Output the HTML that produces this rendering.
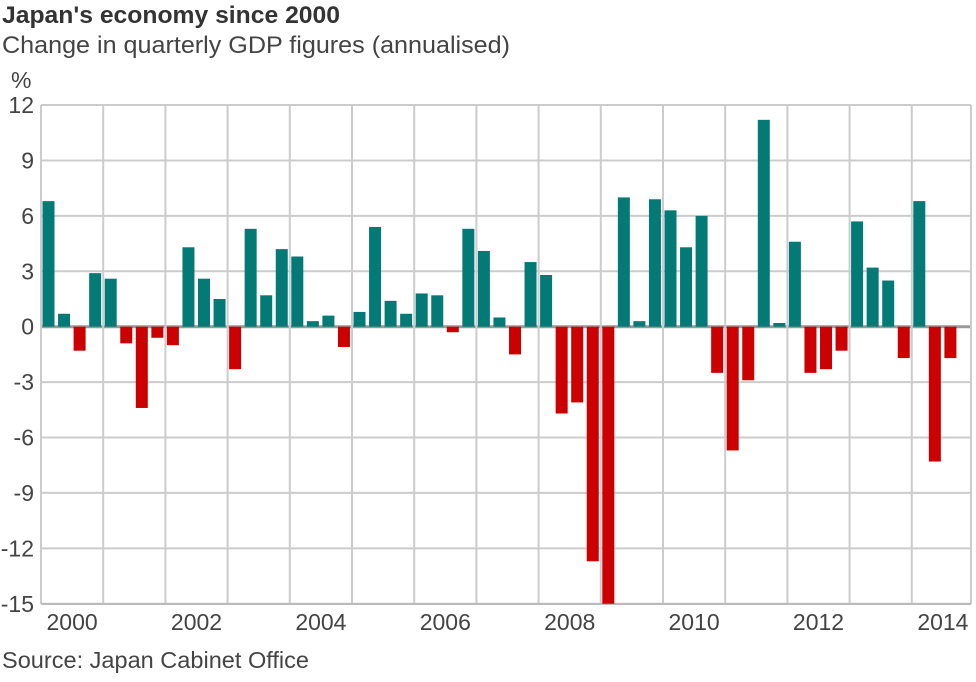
<!DOCTYPE html>
<html><head><meta charset="utf-8"><style>
body{margin:0;background:#fff;width:976px;height:677px;overflow:hidden;font-family:"Liberation Sans",Arial,sans-serif}
</style></head><body>
<svg width="976" height="677" xmlns="http://www.w3.org/2000/svg">
<text x="2" y="23" font-size="24" font-weight="bold" fill="#333" textLength="338" lengthAdjust="spacingAndGlyphs">Japan's economy since 2000</text>
<text x="2" y="53" font-size="24" fill="#444" textLength="508" lengthAdjust="spacingAndGlyphs">Change in quarterly GDP figures (annualised)</text>
<text x="11" y="88" font-size="23" fill="#444">%</text>
<g id="grid"></g><g id="bars"></g><g id="axes"></g>
<text x="2" y="668" font-size="23" fill="#444" textLength="307" lengthAdjust="spacingAndGlyphs">Source: Japan Cabinet Office</text>
</svg>
<script>
const years=[2000,2001,2002,2003,2004,2005,2006,2007,2008,2009,2010,2011,2012,2013,2014];
const yTicks=[12,9,6,3,0,-3,-6,-9,-12,-15];
const gdpValues=[6.8,0.7,-1.3,2.9, 2.6,-0.9,-4.4,-0.6, -1.0,4.3,2.6,1.5, -2.3,5.3,1.7,4.2,
3.8,0.3,0.6,-1.1, 0.8,5.4,1.4,0.7, 1.8,1.7,-0.3,5.3, 4.1,0.5,-1.5,3.5,
2.8,-4.7,-4.1,-12.7, -15,7.0,0.3,6.9, 6.3,4.3,6.0,-2.5, -6.7,-2.9,11.2,0.2,
4.6,-2.5,-2.3,-1.3, 5.7,3.2,2.5,-1.7, 6.8,-7.3,-1.7];
const NS='http://www.w3.org/2000/svg';
const L=41,R=971,T=105,B=604,yw=62.2;
const y=v=>326.7-v*18.47;
const xq=i=>L+i*yw/4;
function mk(tag,attrs,parent){const e=document.createElementNS(NS,tag);for(const k in attrs)e.setAttribute(k,attrs[k]);document.getElementById(parent).appendChild(e);return e;}
yTicks.forEach(t=>{
 const g=mk('line',{x1:L,x2:R,y1:y(t),y2:y(t),stroke:t===0?'#999':'#ccc','stroke-width':t===0?3:2},'grid');
 
 
 const tx=mk('text',{x:34,y:y(t)+8,'text-anchor':'end','font-size':23,fill:'#444'},'axes');
 tx.textContent=t;
 
 
});
years.forEach((yr,i)=>{
 const xs=L+i*yw;
 if(i>0){const g=mk('line',{x1:xs,x2:xs,y1:T,y2:B,stroke:'#ccc','stroke-width':2},'grid');
 
 }
 if(i%2===0){const tx=mk('text',{x:xs+yw/2,y:630,'text-anchor':'middle','font-size':23,fill:'#444'},'axes');
 tx.textContent=yr;
 
 }
});
mk('line',{x1:L,x2:L,y1:T,y2:B,stroke:'#ccc','stroke-width':2},'grid');
mk('line',{x1:R,x2:R,y1:T,y2:B,stroke:'#ccc','stroke-width':2},'grid');
mk('line',{x1:L,x2:R,y1:B,y2:B,stroke:'#bbb','stroke-width':2},'grid');
gdpValues.forEach((v,i)=>{
 const b=mk('rect',{x:xq(i)+1.5,width:12,y:Math.min(y(v),y(0)),height:Math.abs(y(v)-y(0)),fill:v>=0?'#047a77':'#cc0000'},'bars');
 
 
});
</script>
</body></html>
